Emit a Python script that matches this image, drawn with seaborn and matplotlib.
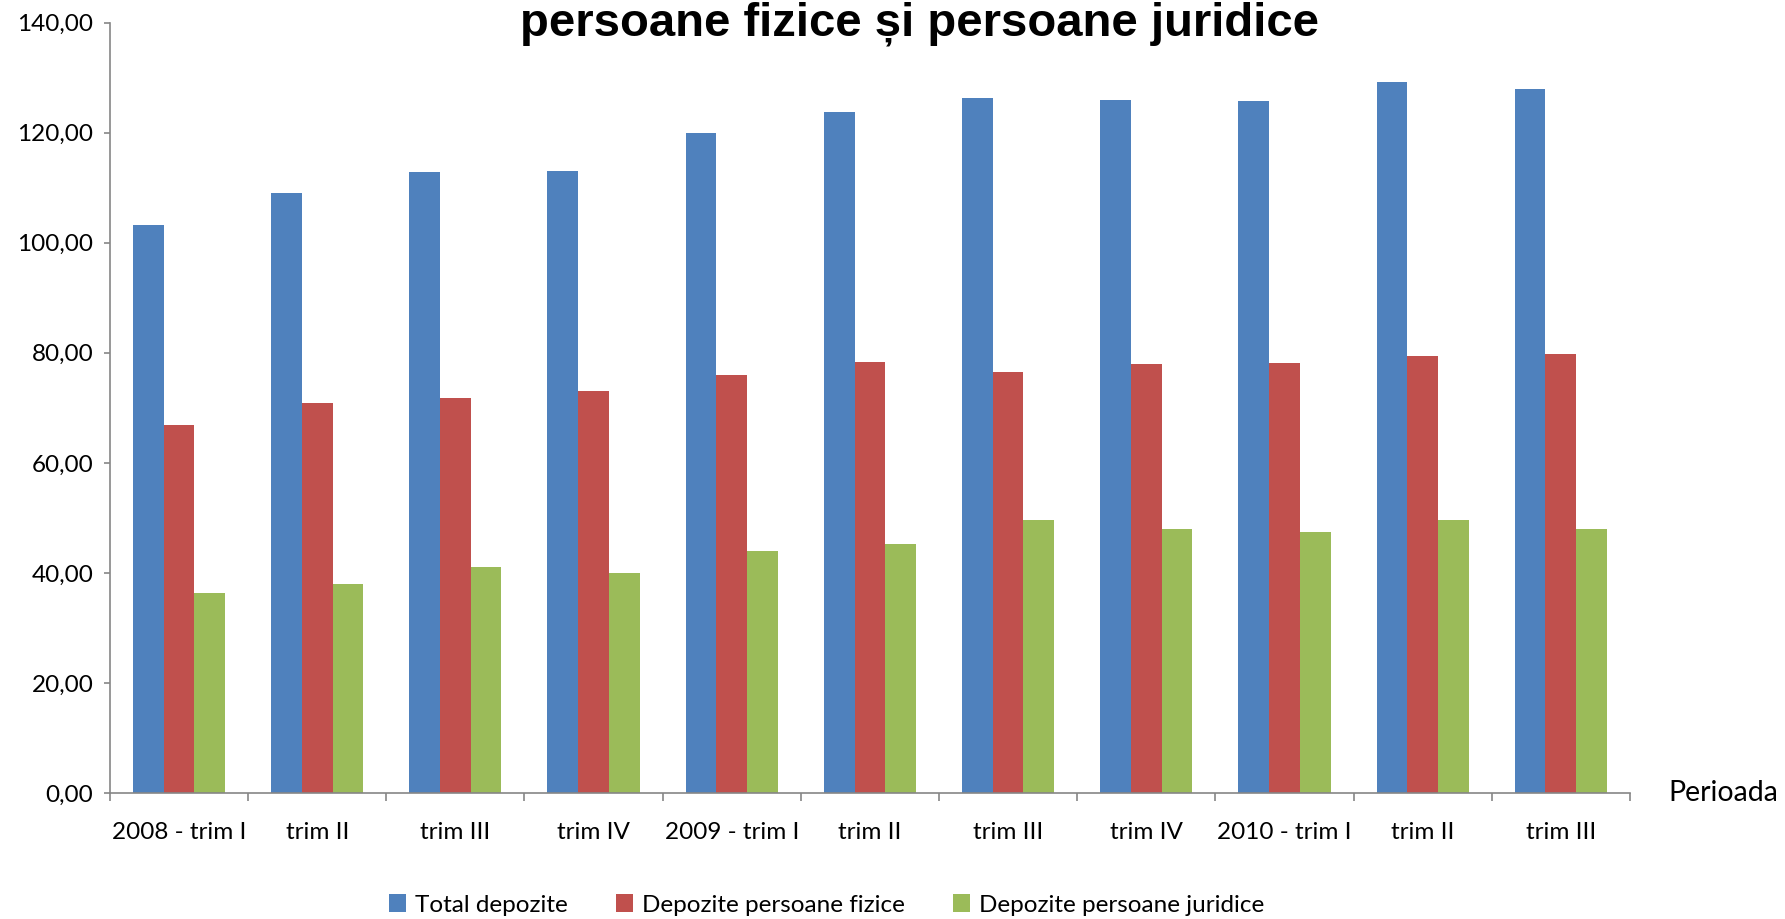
import pandas as pd
import matplotlib.pyplot as plt
import seaborn as sns
from matplotlib.ticker import FuncFormatter, FixedLocator

# Data
perioade = ["2008 - trim I", "trim II", "trim III", "trim IV", "2009 - trim I",
            "trim II ", "trim III ", "trim IV ", "2010 - trim I", "trim II  ", "trim III  "]
total_depozite = [103.3, 109.0, 112.8, 113.1, 119.9, 123.7, 126.2, 125.9, 125.7, 129.2, 127.9]
depozite_pf = [66.8, 70.9, 71.7, 73.1, 76.05, 78.4, 76.5, 77.9, 78.2, 79.4, 79.75]
depozite_pj = [36.4, 38.05, 41.0, 40.0, 43.9, 45.3, 49.7, 48.05, 47.45, 49.7, 48.05]

series_names = ["Total depozite", "Depozite persoane fizice", "Depozite persoane juridice"]
colors = ["#4F81BD", "#C0504D", "#9BBB59"]

df = pd.DataFrame({
    "Perioada": perioade * 3,
    "Valoare": total_depozite + depozite_pf + depozite_pj,
    "Serie": [s for s in series_names for _ in perioade],
})

sns.set_style("white")
plt.rcParams['font.family'] = ['Lato', 'DejaVu Sans']
plt.rcParams['text.color'] = 'black'
plt.rcParams['xtick.labelcolor'] = 'black'
plt.rcParams['ytick.labelcolor'] = 'black'

fig = plt.figure(figsize=(17.85, 9.19), dpi=100)
ax = fig.add_axes([0.0616, 0.137, 0.8515, 0.8385])

sns.barplot(data=df, x="Perioada", y="Valoare", hue="Serie", palette=colors,
            width=0.667, gap=0, linewidth=0, saturation=1, ax=ax)
handles, labels = ax.get_legend_handles_labels()
ax.legend_.remove()

ax.set_xlim(-0.5, len(perioade) - 0.5)
ax.set_ylim(0, 140)
ax.set_yticks(range(0, 141, 20))
ax.yaxis.set_major_formatter(FuncFormatter(lambda v, p: f"{v:.2f}".replace(".", ",")))
ax.set_xticks(range(len(perioade)))
ax.set_xticklabels([p.strip() for p in perioade])
ax.xaxis.set_minor_locator(FixedLocator([i - 0.5 for i in range(len(perioade) + 1)]))

grey = "#868686"
for side in ["top", "right"]:
    ax.spines[side].set_visible(False)
for side in ["left", "bottom"]:
    ax.spines[side].set_color(grey)
    ax.spines[side].set_linewidth(1.2)

ax.tick_params(axis="y", which="major", length=4, width=1.2, color=grey, labelsize=17.5, pad=8, direction="out", left=True)
ax.tick_params(axis="x", which="major", length=0, labelsize=17.5, pad=21)
ax.tick_params(axis="x", which="minor", length=6, width=1.2, color=grey, direction="out", bottom=True)
ax.set_xlabel("")
ax.set_ylabel("")

ax.text(1.025, 0.0, "Perioada", transform=ax.transAxes, fontsize=20.5, ha="left", va="center")

fig.text(0.515, 1 - 35 / 919, "persoane fizice și persoane juridice",
         family="Liberation Sans", fontweight="bold", fontsize=34, ha="center", va="baseline")

fig.legend(handles, labels, loc="center", bbox_to_anchor=(0.463, 1 - 905 / 919), ncol=3,
           frameon=False, fontsize=17.5, handlelength=0.7, handleheight=0.7,
           handletextpad=0.35, columnspacing=2.0)

plt.savefig("out.png", dpi=100)
plt.close()
